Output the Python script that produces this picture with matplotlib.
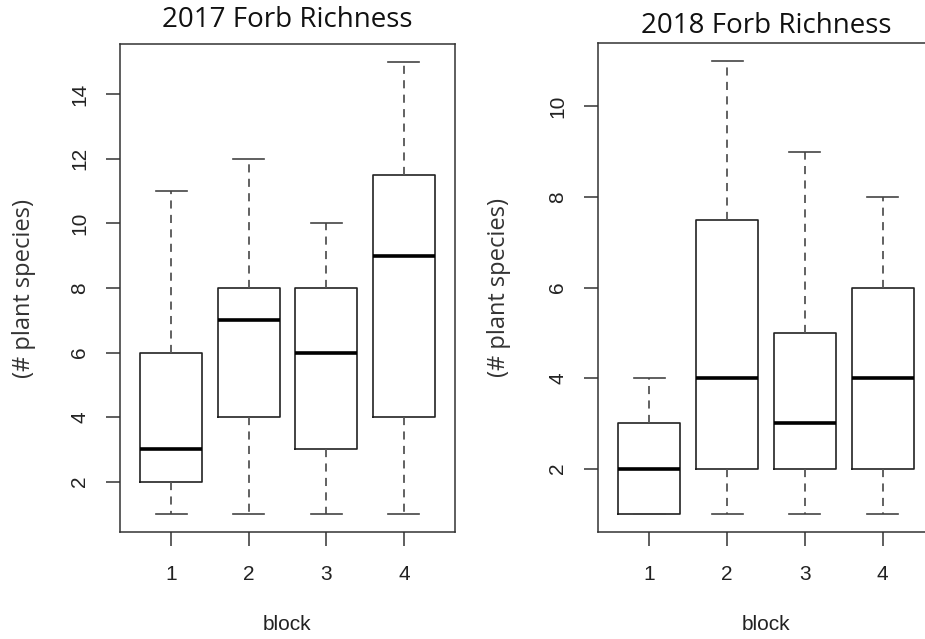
import matplotlib
matplotlib.use("Agg")
import matplotlib.pyplot as plt

blocks = [1, 2, 3, 4]

# 2017 forb richness per block: whisker low, Q1, median, Q3, whisker high
lo_2017 = [1, 1, 1, 1]
q1_2017 = [2, 4, 3, 4]
med_2017 = [3, 7, 6, 9]
q3_2017 = [6, 8, 8, 11.5]
hi_2017 = [11, 12, 10, 15]

# 2018 forb richness per block
lo_2018 = [1, 1, 1, 1]
q1_2018 = [1, 2, 2, 2]
med_2018 = [2, 4, 3, 4]
q3_2018 = [3, 7.5, 5, 6]
hi_2018 = [4, 11, 9, 8]

titles = ["2017 Forb Richness", "2018 Forb Richness"]
yticks_2017 = [2, 4, 6, 8, 10, 12, 14]
yticks_2018 = [2, 4, 6, 8, 10]

W, H = 925, 639
fig = plt.figure(figsize=(W / 100, H / 100), dpi=100)

def px_axes(l, t, r, b):
    return fig.add_axes([l / W, 1 - b / H, (r - l) / W, (b - t) / H])

ax1 = px_axes(120, 44, 455, 532)
ax2 = px_axes(598, 43, 934, 532)

frame = "#333333"
tick_font = "Liberation Sans"
label_font = "Open Sans"

def make_stats(lo, q1, med, q3, hi):
    return [dict(whislo=a, q1=b, med=c, q3=d, whishi=e, fliers=[])
            for a, b, c, d, e in zip(lo, q1, med, q3, hi)]

def draw(ax, stats, yticks, ylim, title, title_pad):
    ax.bxp(stats, positions=blocks, widths=0.8, showfliers=False,
           boxprops=dict(color="#222222", linewidth=1.2),
           whiskerprops=dict(color="#555555", linewidth=1.3, linestyle=(0, (4.5, 3.5))),
           capprops=dict(color="#444444", linewidth=1.2),
           medianprops=dict(color="black", linewidth=2.6),
           capwidths=0.4)
    ax.set_xlim(0.34, 4.66)
    ax.set_ylim(*ylim)
    ax.set_xticks(blocks)
    ax.set_xticklabels([str(b) for b in blocks])
    ax.set_yticks(yticks)
    ax.set_yticklabels([str(v) for v in yticks], rotation=90, va="center")
    for s in ax.spines.values():
        s.set_color(frame)
        s.set_linewidth(1.1)
    ax.tick_params(direction="out", length=10, width=1.1, color=frame,
                   labelsize=15, labelcolor="#222222")
    ax.tick_params(axis="y", pad=12)
    ax.tick_params(axis="x", pad=14)
    for lab in ax.get_xticklabels() + ax.get_yticklabels():
        lab.set_fontfamily(tick_font)
    ax.set_xlabel("block", fontsize=15, family=tick_font, color="#222222", labelpad=22)
    ax.set_ylabel("(# plant species)", fontsize=17, family=label_font,
                  color="#333333")
    ax.set_title(title, fontsize=20, family=label_font, color="#111111", pad=title_pad)

draw(ax1, make_stats(lo_2017, q1_2017, med_2017, q3_2017, hi_2017),
     yticks_2017, (0.44, 15.56), titles[0], 12)
draw(ax2, make_stats(lo_2018, q1_2018, med_2018, q3_2018, hi_2018),
     yticks_2018, (0.6, 11.4), titles[1], 7)

ax1.yaxis.set_label_coords(-0.25, 0.5)
ax2.yaxis.set_label_coords(-0.258, 0.5)

fig.savefig("out.png", dpi=100, facecolor="white")
